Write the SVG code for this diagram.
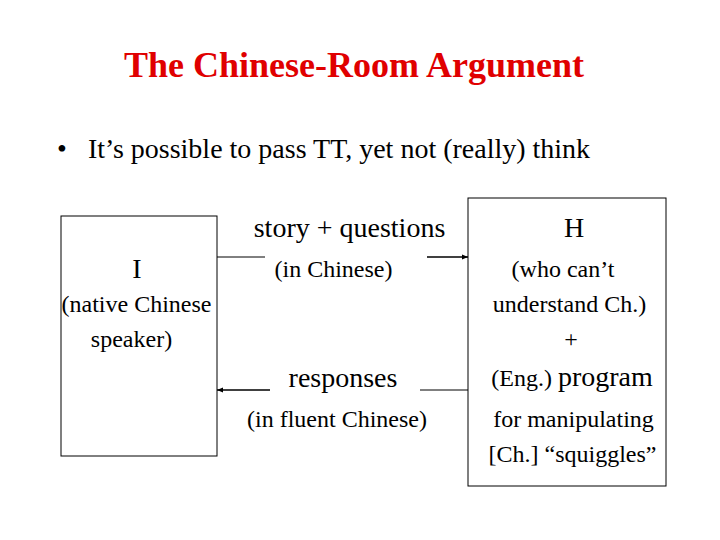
<svg xmlns="http://www.w3.org/2000/svg" width="720" height="540" viewBox="0 0 720 540">
<style>
text{font-family:"Liberation Serif","Times New Roman",serif;fill:#000}
.t{font-size:36px;font-weight:bold;fill:#e00000}
.b{font-size:28px}
.l{font-size:28px}
.s{font-size:24px}
.box{fill:#fff;stroke:#000;stroke-width:1}
.c{stroke:#000;stroke-width:1.5;fill:none}
</style>
<defs>
<marker id="ah" viewBox="0 0 10 10" refX="10" refY="5" markerWidth="4" markerHeight="4" orient="auto">
<path d="M0,1 L10,5 L0,9 z" fill="#000"/>
</marker>
</defs>
<rect width="720" height="540" fill="#fff"/>
<text class="t" x="354" y="77" text-anchor="middle">The Chinese-Room Argument</text>
<text class="b" x="57" y="158">•</text>
<text class="b" x="88" y="158">It’s possible to pass TT, yet not (really) think</text>
<g id="nodeI">
<rect class="box" x="61" y="216" width="156" height="240"/>
<text class="l" x="137" y="278" text-anchor="middle">I</text>
<text class="s" x="136.5" y="312" text-anchor="middle">(native Chinese</text>
<text class="s" x="131.5" y="347" text-anchor="middle">speaker)</text>
</g>
<g id="nodeH">
<rect class="box" x="468" y="198" width="198" height="288"/>
<text class="l" x="574" y="237" text-anchor="middle">H</text>
<text class="s" x="563" y="277" text-anchor="middle">(who can’t</text>
<text class="s" x="569.5" y="312" text-anchor="middle">understand Ch.)</text>
<text class="s" x="571" y="347" text-anchor="middle">+</text>
<text x="572" y="386" text-anchor="middle"><tspan class="s">(Eng.) </tspan><tspan class="l">program</tspan></text>
<text class="s" x="573.5" y="427" text-anchor="middle">for manipulating</text>
<text class="s" x="572.5" y="462" text-anchor="middle">[Ch.] “squiggles”</text>
</g>
<g id="connectors">
<line x1="217" y1="257" x2="265" y2="257" stroke="#000" stroke-width="1"/>
<line class="c" x1="427" y1="257" x2="468" y2="257" marker-end="url(#ah)"/>
<text class="l" x="349.5" y="237" text-anchor="middle">story + questions</text>
<text class="s" x="333.5" y="277" text-anchor="middle">(in Chinese)</text>
<line class="c" x1="270" y1="390" x2="217" y2="390" marker-end="url(#ah)"/>
<line x1="420" y1="390" x2="468" y2="390" stroke="#000" stroke-width="1"/>
<text class="l" x="343" y="387" text-anchor="middle">responses</text>
<text class="s" x="337" y="427" text-anchor="middle">(in fluent Chinese)</text>
</g>
</svg>
